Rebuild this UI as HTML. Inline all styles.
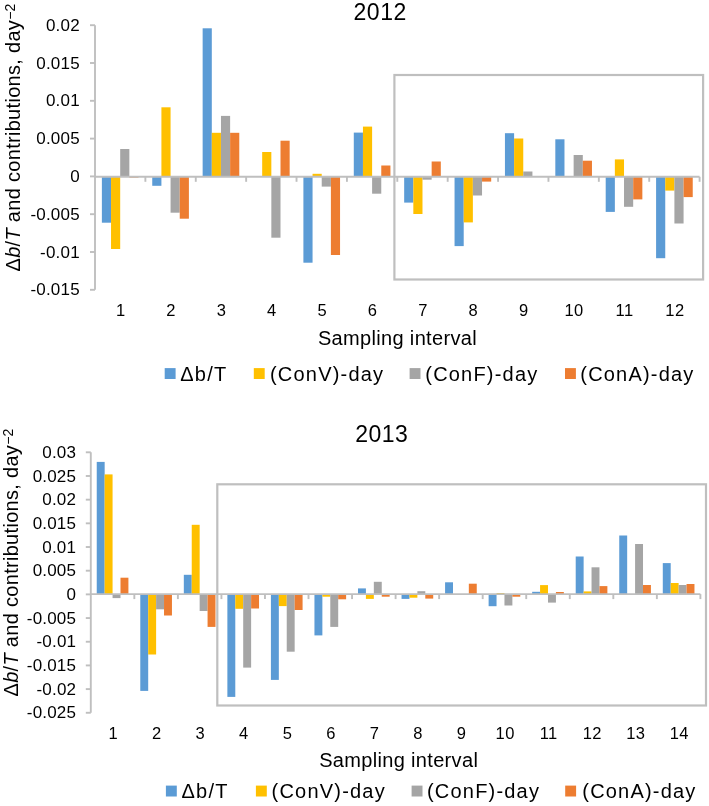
<!DOCTYPE html>
<html><head><meta charset="utf-8"><style>
html,body{margin:0;padding:0;background:#fff;width:709px;height:806px;overflow:hidden}
svg{display:block;will-change:transform}
text{font-family:"Liberation Sans", sans-serif;fill:#000}
</style></head><body>
<svg width="709" height="806" viewBox="0 0 709 806">
<rect x="101.87" y="176.80" width="9.16" height="45.90" fill="#5B9BD5"/>
<rect x="111.03" y="176.80" width="9.16" height="72.20" fill="#FFC000"/>
<rect x="120.19" y="149.00" width="9.16" height="27.80" fill="#A5A5A5"/>
<rect x="129.35" y="176.80" width="9.16" height="0.80" fill="#ED7D31"/>
<rect x="152.25" y="176.80" width="9.16" height="9.00" fill="#5B9BD5"/>
<rect x="161.41" y="107.30" width="9.16" height="69.50" fill="#FFC000"/>
<rect x="170.57" y="176.80" width="9.16" height="35.90" fill="#A5A5A5"/>
<rect x="179.74" y="176.80" width="9.16" height="41.90" fill="#ED7D31"/>
<rect x="202.64" y="28.30" width="9.16" height="148.50" fill="#5B9BD5"/>
<rect x="211.80" y="132.80" width="9.16" height="44.00" fill="#FFC000"/>
<rect x="220.96" y="115.90" width="9.16" height="60.90" fill="#A5A5A5"/>
<rect x="230.12" y="132.80" width="9.16" height="44.00" fill="#ED7D31"/>
<rect x="262.18" y="152.00" width="9.16" height="24.80" fill="#FFC000"/>
<rect x="271.34" y="176.80" width="9.16" height="60.90" fill="#A5A5A5"/>
<rect x="280.50" y="140.70" width="9.16" height="36.10" fill="#ED7D31"/>
<rect x="303.40" y="176.80" width="9.16" height="85.90" fill="#5B9BD5"/>
<rect x="312.56" y="173.80" width="9.16" height="3.00" fill="#FFC000"/>
<rect x="321.72" y="176.80" width="9.16" height="9.80" fill="#A5A5A5"/>
<rect x="330.89" y="176.80" width="9.16" height="78.20" fill="#ED7D31"/>
<rect x="353.79" y="132.60" width="9.16" height="44.20" fill="#5B9BD5"/>
<rect x="362.95" y="126.60" width="9.16" height="50.20" fill="#FFC000"/>
<rect x="372.11" y="176.80" width="9.16" height="16.90" fill="#A5A5A5"/>
<rect x="381.27" y="165.50" width="9.16" height="11.30" fill="#ED7D31"/>
<rect x="404.17" y="176.80" width="9.16" height="25.80" fill="#5B9BD5"/>
<rect x="413.33" y="176.80" width="9.16" height="37.20" fill="#FFC000"/>
<rect x="422.49" y="176.80" width="9.16" height="2.90" fill="#A5A5A5"/>
<rect x="431.65" y="161.50" width="9.16" height="15.30" fill="#ED7D31"/>
<rect x="454.55" y="176.80" width="9.16" height="69.30" fill="#5B9BD5"/>
<rect x="463.71" y="176.80" width="9.16" height="45.60" fill="#FFC000"/>
<rect x="472.88" y="176.80" width="9.16" height="18.70" fill="#A5A5A5"/>
<rect x="482.04" y="176.80" width="9.16" height="4.80" fill="#ED7D31"/>
<rect x="504.94" y="133.20" width="9.16" height="43.60" fill="#5B9BD5"/>
<rect x="514.10" y="138.50" width="9.16" height="38.30" fill="#FFC000"/>
<rect x="523.26" y="171.50" width="9.16" height="5.30" fill="#A5A5A5"/>
<rect x="555.32" y="139.30" width="9.16" height="37.50" fill="#5B9BD5"/>
<rect x="573.64" y="155.00" width="9.16" height="21.80" fill="#A5A5A5"/>
<rect x="582.80" y="160.70" width="9.16" height="16.10" fill="#ED7D31"/>
<rect x="605.70" y="176.80" width="9.16" height="35.10" fill="#5B9BD5"/>
<rect x="614.86" y="159.40" width="9.16" height="17.40" fill="#FFC000"/>
<rect x="624.02" y="176.80" width="9.16" height="30.00" fill="#A5A5A5"/>
<rect x="633.19" y="176.80" width="9.16" height="22.60" fill="#ED7D31"/>
<rect x="656.09" y="176.80" width="9.16" height="81.40" fill="#5B9BD5"/>
<rect x="665.25" y="176.80" width="9.16" height="13.80" fill="#FFC000"/>
<rect x="674.41" y="176.80" width="9.16" height="46.70" fill="#A5A5A5"/>
<rect x="683.57" y="176.80" width="9.16" height="20.30" fill="#ED7D31"/>
<line x1="95.0" y1="25.20" x2="95.0" y2="289.80" stroke="#BFBFBF" stroke-width="1.9"/>
<line x1="90.0" y1="25.20" x2="95.0" y2="25.20" stroke="#BFBFBF" stroke-width="1.9"/>
<text x="79.80" y="30.80" font-size="17" text-anchor="end" letter-spacing="0.2">0.02</text>
<line x1="90.0" y1="63.00" x2="95.0" y2="63.00" stroke="#BFBFBF" stroke-width="1.9"/>
<text x="79.80" y="68.60" font-size="17" text-anchor="end" letter-spacing="0.2">0.015</text>
<line x1="90.0" y1="100.80" x2="95.0" y2="100.80" stroke="#BFBFBF" stroke-width="1.9"/>
<text x="79.80" y="106.40" font-size="17" text-anchor="end" letter-spacing="0.2">0.01</text>
<line x1="90.0" y1="138.60" x2="95.0" y2="138.60" stroke="#BFBFBF" stroke-width="1.9"/>
<text x="79.80" y="144.20" font-size="17" text-anchor="end" letter-spacing="0.2">0.005</text>
<line x1="90.0" y1="176.40" x2="95.0" y2="176.40" stroke="#BFBFBF" stroke-width="1.9"/>
<text x="79.80" y="182.00" font-size="17" text-anchor="end" letter-spacing="0.2">0</text>
<line x1="90.0" y1="214.20" x2="95.0" y2="214.20" stroke="#BFBFBF" stroke-width="1.9"/>
<text x="79.80" y="219.80" font-size="17" text-anchor="end" letter-spacing="0.2">-0.005</text>
<line x1="90.0" y1="252.00" x2="95.0" y2="252.00" stroke="#BFBFBF" stroke-width="1.9"/>
<text x="79.80" y="257.60" font-size="17" text-anchor="end" letter-spacing="0.2">-0.01</text>
<line x1="90.0" y1="289.80" x2="95.0" y2="289.80" stroke="#BFBFBF" stroke-width="1.9"/>
<text x="79.80" y="295.40" font-size="17" text-anchor="end" letter-spacing="0.2">-0.015</text>
<line x1="95.0" y1="176.8" x2="699.6" y2="176.8" stroke="#BFBFBF" stroke-width="1.9"/>
<line x1="145.38" y1="176.8" x2="145.38" y2="181.8" stroke="#BFBFBF" stroke-width="1.9"/>
<line x1="195.77" y1="176.8" x2="195.77" y2="181.8" stroke="#BFBFBF" stroke-width="1.9"/>
<line x1="246.15" y1="176.8" x2="246.15" y2="181.8" stroke="#BFBFBF" stroke-width="1.9"/>
<line x1="296.53" y1="176.8" x2="296.53" y2="181.8" stroke="#BFBFBF" stroke-width="1.9"/>
<line x1="346.92" y1="176.8" x2="346.92" y2="181.8" stroke="#BFBFBF" stroke-width="1.9"/>
<line x1="397.30" y1="176.8" x2="397.30" y2="181.8" stroke="#BFBFBF" stroke-width="1.9"/>
<line x1="447.68" y1="176.8" x2="447.68" y2="181.8" stroke="#BFBFBF" stroke-width="1.9"/>
<line x1="498.07" y1="176.8" x2="498.07" y2="181.8" stroke="#BFBFBF" stroke-width="1.9"/>
<line x1="548.45" y1="176.8" x2="548.45" y2="181.8" stroke="#BFBFBF" stroke-width="1.9"/>
<line x1="598.83" y1="176.8" x2="598.83" y2="181.8" stroke="#BFBFBF" stroke-width="1.9"/>
<line x1="649.22" y1="176.8" x2="649.22" y2="181.8" stroke="#BFBFBF" stroke-width="1.9"/>
<line x1="699.60" y1="176.8" x2="699.60" y2="181.8" stroke="#BFBFBF" stroke-width="1.9"/>
<text x="120.69" y="316.20" font-size="16.5" text-anchor="middle" letter-spacing="0.4">1</text>
<text x="171.07" y="316.20" font-size="16.5" text-anchor="middle" letter-spacing="0.4">2</text>
<text x="221.46" y="316.20" font-size="16.5" text-anchor="middle" letter-spacing="0.4">3</text>
<text x="271.84" y="316.20" font-size="16.5" text-anchor="middle" letter-spacing="0.4">4</text>
<text x="322.23" y="316.20" font-size="16.5" text-anchor="middle" letter-spacing="0.4">5</text>
<text x="372.61" y="316.20" font-size="16.5" text-anchor="middle" letter-spacing="0.4">6</text>
<text x="422.99" y="316.20" font-size="16.5" text-anchor="middle" letter-spacing="0.4">7</text>
<text x="473.38" y="316.20" font-size="16.5" text-anchor="middle" letter-spacing="0.4">8</text>
<text x="523.76" y="316.20" font-size="16.5" text-anchor="middle" letter-spacing="0.4">9</text>
<text x="574.14" y="316.20" font-size="16.5" text-anchor="middle" letter-spacing="0.4">10</text>
<text x="624.52" y="316.20" font-size="16.5" text-anchor="middle" letter-spacing="0.4">11</text>
<text x="674.91" y="316.20" font-size="16.5" text-anchor="middle" letter-spacing="0.4">12</text>
<rect x="394.4" y="75.0" width="308.70000000000005" height="204.5" fill="none" stroke="#BFBFBF" stroke-width="2.2"/>
<text x="380.15" y="20.20" font-size="23" text-anchor="middle" letter-spacing="0.5">2012</text>
<text x="397.47" y="344.90" font-size="20" text-anchor="middle" letter-spacing="0.33">Sampling interval</text>
<rect x="164.70" y="368.10" width="10.9" height="10.9" fill="#5B9BD5"/>
<text x="180.30" y="380.80" font-size="20" letter-spacing="1.2">Δb/T</text>
<rect x="253.80" y="368.10" width="10.9" height="10.9" fill="#FFC000"/>
<text x="270.00" y="380.80" font-size="20" letter-spacing="1.2">(ConV)-day</text>
<rect x="409.60" y="368.10" width="10.9" height="10.9" fill="#A5A5A5"/>
<text x="425.30" y="380.80" font-size="20" letter-spacing="1.2">(ConF)-day</text>
<rect x="565.00" y="368.10" width="10.9" height="10.9" fill="#ED7D31"/>
<text x="580.30" y="380.80" font-size="20" letter-spacing="1.2">(ConA)-day</text>
<text transform="translate(20.0,271.5) rotate(-90)" font-size="20" letter-spacing="0.3">Δ<tspan font-style="italic">b</tspan>/<tspan font-style="italic">T</tspan> and contributions, day<tspan font-size="14" dy="-5">−2</tspan></text>
<rect x="96.74" y="461.90" width="7.92" height="132.20" fill="#5B9BD5"/>
<rect x="104.65" y="474.40" width="7.92" height="119.70" fill="#FFC000"/>
<rect x="112.57" y="594.10" width="7.92" height="4.00" fill="#A5A5A5"/>
<rect x="120.49" y="577.70" width="7.92" height="16.40" fill="#ED7D31"/>
<rect x="140.28" y="594.10" width="7.92" height="96.80" fill="#5B9BD5"/>
<rect x="148.20" y="594.10" width="7.92" height="60.40" fill="#FFC000"/>
<rect x="156.11" y="594.10" width="7.92" height="15.20" fill="#A5A5A5"/>
<rect x="164.03" y="594.10" width="7.92" height="21.40" fill="#ED7D31"/>
<rect x="183.82" y="574.80" width="7.92" height="19.30" fill="#5B9BD5"/>
<rect x="191.74" y="524.80" width="7.92" height="69.30" fill="#FFC000"/>
<rect x="199.66" y="594.10" width="7.92" height="16.90" fill="#A5A5A5"/>
<rect x="207.57" y="594.10" width="7.92" height="32.80" fill="#ED7D31"/>
<rect x="227.37" y="594.10" width="7.92" height="102.80" fill="#5B9BD5"/>
<rect x="235.28" y="594.10" width="7.92" height="14.70" fill="#FFC000"/>
<rect x="243.20" y="594.10" width="7.92" height="73.50" fill="#A5A5A5"/>
<rect x="251.12" y="594.10" width="7.92" height="14.40" fill="#ED7D31"/>
<rect x="270.91" y="594.10" width="7.92" height="85.80" fill="#5B9BD5"/>
<rect x="278.83" y="594.10" width="7.92" height="12.00" fill="#FFC000"/>
<rect x="286.74" y="594.10" width="7.92" height="57.60" fill="#A5A5A5"/>
<rect x="294.66" y="594.10" width="7.92" height="15.90" fill="#ED7D31"/>
<rect x="314.45" y="594.10" width="7.92" height="41.30" fill="#5B9BD5"/>
<rect x="322.37" y="594.10" width="7.92" height="2.60" fill="#FFC000"/>
<rect x="330.29" y="594.10" width="7.92" height="32.80" fill="#A5A5A5"/>
<rect x="338.20" y="594.10" width="7.92" height="5.20" fill="#ED7D31"/>
<rect x="357.99" y="588.40" width="7.92" height="5.70" fill="#5B9BD5"/>
<rect x="365.91" y="594.10" width="7.92" height="4.80" fill="#FFC000"/>
<rect x="373.83" y="581.80" width="7.92" height="12.30" fill="#A5A5A5"/>
<rect x="381.75" y="594.10" width="7.92" height="2.60" fill="#ED7D31"/>
<rect x="401.54" y="594.10" width="7.92" height="4.80" fill="#5B9BD5"/>
<rect x="409.45" y="594.10" width="7.92" height="3.60" fill="#FFC000"/>
<rect x="417.37" y="591.20" width="7.92" height="2.90" fill="#A5A5A5"/>
<rect x="425.29" y="594.10" width="7.92" height="4.50" fill="#ED7D31"/>
<rect x="445.08" y="582.30" width="7.92" height="11.80" fill="#5B9BD5"/>
<rect x="468.83" y="583.70" width="7.92" height="10.40" fill="#ED7D31"/>
<rect x="488.62" y="594.10" width="7.92" height="12.10" fill="#5B9BD5"/>
<rect x="496.54" y="593.00" width="7.92" height="1.10" fill="#FFC000"/>
<rect x="504.46" y="594.10" width="7.92" height="11.40" fill="#A5A5A5"/>
<rect x="512.37" y="594.10" width="7.92" height="2.60" fill="#ED7D31"/>
<rect x="532.17" y="591.80" width="7.92" height="2.30" fill="#5B9BD5"/>
<rect x="540.08" y="585.10" width="7.92" height="9.00" fill="#FFC000"/>
<rect x="548.00" y="594.10" width="7.92" height="8.50" fill="#A5A5A5"/>
<rect x="555.92" y="592.00" width="7.92" height="2.10" fill="#ED7D31"/>
<rect x="575.71" y="556.50" width="7.92" height="37.60" fill="#5B9BD5"/>
<rect x="583.63" y="591.40" width="7.92" height="2.70" fill="#FFC000"/>
<rect x="591.54" y="567.30" width="7.92" height="26.80" fill="#A5A5A5"/>
<rect x="599.46" y="586.10" width="7.92" height="8.00" fill="#ED7D31"/>
<rect x="619.25" y="535.50" width="7.92" height="58.60" fill="#5B9BD5"/>
<rect x="635.09" y="544.00" width="7.92" height="50.10" fill="#A5A5A5"/>
<rect x="643.00" y="585.00" width="7.92" height="9.10" fill="#ED7D31"/>
<rect x="662.79" y="563.10" width="7.92" height="31.00" fill="#5B9BD5"/>
<rect x="670.71" y="583.00" width="7.92" height="11.10" fill="#FFC000"/>
<rect x="678.63" y="585.00" width="7.92" height="9.10" fill="#A5A5A5"/>
<rect x="686.55" y="584.00" width="7.92" height="10.10" fill="#ED7D31"/>
<line x1="90.8" y1="452.30" x2="90.8" y2="712.78" stroke="#BFBFBF" stroke-width="1.9"/>
<line x1="85.8" y1="452.30" x2="90.8" y2="452.30" stroke="#BFBFBF" stroke-width="1.9"/>
<text x="76.20" y="457.90" font-size="17" text-anchor="end" letter-spacing="0.2">0.03</text>
<line x1="85.8" y1="475.98" x2="90.8" y2="475.98" stroke="#BFBFBF" stroke-width="1.9"/>
<text x="76.20" y="481.58" font-size="17" text-anchor="end" letter-spacing="0.2">0.025</text>
<line x1="85.8" y1="499.66" x2="90.8" y2="499.66" stroke="#BFBFBF" stroke-width="1.9"/>
<text x="76.20" y="505.26" font-size="17" text-anchor="end" letter-spacing="0.2">0.02</text>
<line x1="85.8" y1="523.34" x2="90.8" y2="523.34" stroke="#BFBFBF" stroke-width="1.9"/>
<text x="76.20" y="528.94" font-size="17" text-anchor="end" letter-spacing="0.2">0.015</text>
<line x1="85.8" y1="547.02" x2="90.8" y2="547.02" stroke="#BFBFBF" stroke-width="1.9"/>
<text x="76.20" y="552.62" font-size="17" text-anchor="end" letter-spacing="0.2">0.01</text>
<line x1="85.8" y1="570.70" x2="90.8" y2="570.70" stroke="#BFBFBF" stroke-width="1.9"/>
<text x="76.20" y="576.30" font-size="17" text-anchor="end" letter-spacing="0.2">0.005</text>
<line x1="85.8" y1="594.38" x2="90.8" y2="594.38" stroke="#BFBFBF" stroke-width="1.9"/>
<text x="76.20" y="599.98" font-size="17" text-anchor="end" letter-spacing="0.2">0</text>
<line x1="85.8" y1="618.06" x2="90.8" y2="618.06" stroke="#BFBFBF" stroke-width="1.9"/>
<text x="76.20" y="623.66" font-size="17" text-anchor="end" letter-spacing="0.2">-0.005</text>
<line x1="85.8" y1="641.74" x2="90.8" y2="641.74" stroke="#BFBFBF" stroke-width="1.9"/>
<text x="76.20" y="647.34" font-size="17" text-anchor="end" letter-spacing="0.2">-0.01</text>
<line x1="85.8" y1="665.42" x2="90.8" y2="665.42" stroke="#BFBFBF" stroke-width="1.9"/>
<text x="76.20" y="671.02" font-size="17" text-anchor="end" letter-spacing="0.2">-0.015</text>
<line x1="85.8" y1="689.10" x2="90.8" y2="689.10" stroke="#BFBFBF" stroke-width="1.9"/>
<text x="76.20" y="694.70" font-size="17" text-anchor="end" letter-spacing="0.2">-0.02</text>
<line x1="85.8" y1="712.78" x2="90.8" y2="712.78" stroke="#BFBFBF" stroke-width="1.9"/>
<text x="76.20" y="718.38" font-size="17" text-anchor="end" letter-spacing="0.2">-0.025</text>
<line x1="90.8" y1="594.1" x2="700.4" y2="594.1" stroke="#BFBFBF" stroke-width="1.9"/>
<line x1="134.34" y1="594.1" x2="134.34" y2="599.1" stroke="#BFBFBF" stroke-width="1.9"/>
<line x1="177.89" y1="594.1" x2="177.89" y2="599.1" stroke="#BFBFBF" stroke-width="1.9"/>
<line x1="221.43" y1="594.1" x2="221.43" y2="599.1" stroke="#BFBFBF" stroke-width="1.9"/>
<line x1="264.97" y1="594.1" x2="264.97" y2="599.1" stroke="#BFBFBF" stroke-width="1.9"/>
<line x1="308.51" y1="594.1" x2="308.51" y2="599.1" stroke="#BFBFBF" stroke-width="1.9"/>
<line x1="352.06" y1="594.1" x2="352.06" y2="599.1" stroke="#BFBFBF" stroke-width="1.9"/>
<line x1="395.60" y1="594.1" x2="395.60" y2="599.1" stroke="#BFBFBF" stroke-width="1.9"/>
<line x1="439.14" y1="594.1" x2="439.14" y2="599.1" stroke="#BFBFBF" stroke-width="1.9"/>
<line x1="482.69" y1="594.1" x2="482.69" y2="599.1" stroke="#BFBFBF" stroke-width="1.9"/>
<line x1="526.23" y1="594.1" x2="526.23" y2="599.1" stroke="#BFBFBF" stroke-width="1.9"/>
<line x1="569.77" y1="594.1" x2="569.77" y2="599.1" stroke="#BFBFBF" stroke-width="1.9"/>
<line x1="613.31" y1="594.1" x2="613.31" y2="599.1" stroke="#BFBFBF" stroke-width="1.9"/>
<line x1="656.86" y1="594.1" x2="656.86" y2="599.1" stroke="#BFBFBF" stroke-width="1.9"/>
<line x1="700.40" y1="594.1" x2="700.40" y2="599.1" stroke="#BFBFBF" stroke-width="1.9"/>
<text x="113.27" y="739.30" font-size="16.5" text-anchor="middle" letter-spacing="0.4">1</text>
<text x="156.81" y="739.30" font-size="16.5" text-anchor="middle" letter-spacing="0.4">2</text>
<text x="200.36" y="739.30" font-size="16.5" text-anchor="middle" letter-spacing="0.4">3</text>
<text x="243.90" y="739.30" font-size="16.5" text-anchor="middle" letter-spacing="0.4">4</text>
<text x="287.44" y="739.30" font-size="16.5" text-anchor="middle" letter-spacing="0.4">5</text>
<text x="330.99" y="739.30" font-size="16.5" text-anchor="middle" letter-spacing="0.4">6</text>
<text x="374.53" y="739.30" font-size="16.5" text-anchor="middle" letter-spacing="0.4">7</text>
<text x="418.07" y="739.30" font-size="16.5" text-anchor="middle" letter-spacing="0.4">8</text>
<text x="461.61" y="739.30" font-size="16.5" text-anchor="middle" letter-spacing="0.4">9</text>
<text x="505.16" y="739.30" font-size="16.5" text-anchor="middle" letter-spacing="0.4">10</text>
<text x="548.70" y="739.30" font-size="16.5" text-anchor="middle" letter-spacing="0.4">11</text>
<text x="592.24" y="739.30" font-size="16.5" text-anchor="middle" letter-spacing="0.4">12</text>
<text x="635.79" y="739.30" font-size="16.5" text-anchor="middle" letter-spacing="0.4">13</text>
<text x="679.33" y="739.30" font-size="16.5" text-anchor="middle" letter-spacing="0.4">14</text>
<rect x="217.3" y="484.3" width="488.7" height="221.2" fill="none" stroke="#BFBFBF" stroke-width="2.2"/>
<text x="381.85" y="442.00" font-size="23" text-anchor="middle" letter-spacing="0.5">2013</text>
<text x="398.67" y="766.50" font-size="20" text-anchor="middle" letter-spacing="0.33">Sampling interval</text>
<rect x="165.90" y="785.60" width="10.9" height="10.9" fill="#5B9BD5"/>
<text x="181.50" y="797.60" font-size="20" letter-spacing="1.2">Δb/T</text>
<rect x="255.90" y="785.60" width="10.9" height="10.9" fill="#FFC000"/>
<text x="271.60" y="797.60" font-size="20" letter-spacing="1.2">(ConV)-day</text>
<rect x="411.60" y="785.60" width="10.9" height="10.9" fill="#A5A5A5"/>
<text x="427.00" y="797.60" font-size="20" letter-spacing="1.2">(ConF)-day</text>
<rect x="565.20" y="785.60" width="10.9" height="10.9" fill="#ED7D31"/>
<text x="582.30" y="797.60" font-size="20" letter-spacing="1.2">(ConA)-day</text>
<text transform="translate(18.2,696.5) rotate(-90)" font-size="20" letter-spacing="0.3">Δ<tspan font-style="italic">b</tspan>/<tspan font-style="italic">T</tspan> and contributions, day<tspan font-size="14" dy="-5">−2</tspan></text>
</svg>
</body></html>
